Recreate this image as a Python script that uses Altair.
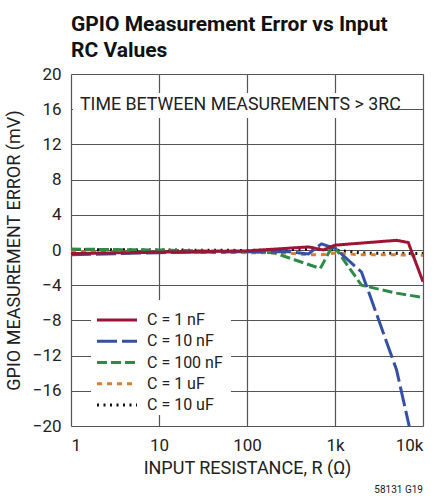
import altair as alt
import pandas as pd

FONT = "Roboto, Liberation Sans, sans-serif"

series_names = ["C = 1 nF", "C = 10 nF", "C = 100 nF", "C = 1 uF", "C = 10 uF"]
colors = ["#9b1536", "#3551a5", "#2f8a48", "#d4812f", "#111111"]
dashes = [[1, 0], [20, 5], [10, 4], [5, 5], [2, 4.5]]
widths = [3, 3, 3, 3, 2]

r_1nF = [1, 10, 100, 500, 740, 1000, 5000, 6800, 10000]
v_1nF = [-0.4, -0.25, -0.1, 0.35, 0.0, 0.55, 1.1, 0.85, -3.6]

r_10nF = [1, 10, 100, 300, 500, 700, 1000, 2000, 5000, 10000]
v_10nF = [-0.55, -0.3, -0.2, -0.2, -0.45, 0.7, 0.2, -2.5, -13.6, -27.0]

r_100nF = [1, 10, 100, 200, 680, 950, 2000, 5000, 10000]
v_100nF = [0.1, 0.0, -0.2, -0.3, -2.1, 0.6, -4.0, -4.9, -5.4]

r_1uF = [1, 10, 100, 300, 500, 700, 1000, 2000, 5000, 10000]
v_1uF = [-0.2, -0.25, -0.3, -0.35, -0.55, -0.55, -0.35, -0.55, -0.55, -0.6]

r_10uF = [1, 10, 100, 500, 700, 1000, 2000, 10000]
v_10uF = [0.05, 0.0, -0.05, 0.1, 0.1, 0.0, -0.35, -0.4]

x_ticks = [1, 10, 100, 1000, 10000]
y_ticks = [-20, -16, -12, -8, -4, 0, 4, 8, 12, 16, 20]

rows = []
series_data = list(zip(series_names,
                       [r_1nF, r_10nF, r_100nF, r_1uF, r_10uF],
                       [v_1nF, v_10nF, v_100nF, v_1uF, v_10uF]))
# draw the 1 nF series last so it sits on top, as in the reference
for name, rs, vs in reversed(series_data):
    for i, (r, v) in enumerate(zip(rs, vs)):
        rows.append({"series": name, "R": r, "V": v, "order": i})
df = pd.DataFrame(rows)
legend_df = pd.DataFrame({"series": series_names})

color_scale = alt.Scale(domain=series_names, range=colors)
dash_scale = alt.Scale(domain=series_names, range=dashes)
width_scale = alt.Scale(domain=series_names, range=widths)

xscale = alt.Scale(type="log", domain=[1, 10000], nice=False)
yscale = alt.Scale(domain=[-20, 20], nice=False, zero=False)

lines = alt.Chart(df).mark_line(clip=True, strokeCap="butt").encode(
    x=alt.X("R:Q", scale=xscale,
            axis=alt.Axis(values=x_ticks, title="INPUT RESISTANCE, R (Ω)",
                          labelExpr="datum.value >= 1000 ? (datum.value/1000) + 'k' : datum.value",
                          grid=True, gridColor="#555", gridWidth=1.2,
                          tickSize=0, labelPadding=11, labelFontSize=17,
                          labelFont=FONT, labelColor="#222",
                          titleFont=FONT, titleFontSize=18, titleFontWeight="normal",
                          titleColor="#222", titleX=176, titleY=42,
                          titleBaseline="middle", domain=False)),
    y=alt.Y("V:Q", scale=yscale,
            axis=alt.Axis(values=y_ticks, format="d", title="GPIO MEASUREMENT ERROR (mV)",
                          grid=True, gridColor="#555", gridWidth=1.2,
                          tickSize=0, labelPadding=10, labelFontSize=17,
                          labelFont=FONT, labelColor="#222",
                          titleFont=FONT, titleFontSize=18, titleFontWeight="normal",
                          titleColor="#222", titleX=-57, titleY=176,
                          titleBaseline="middle", domain=False)),
    color=alt.Color("series:N", scale=color_scale, legend=None),
    strokeDash=alt.StrokeDash("series:N", scale=dash_scale, legend=None),
    strokeWidth=alt.StrokeWidth("series:N", scale=width_scale, legend=None),
    order="order:Q",
)

# legend (drawn from the series list)
leg_y = alt.Y("series:N", scale=alt.Scale(type="point", domain=series_names,
                                          range=[246, 331], padding=0), axis=None)
leg_box = alt.Chart(legend_df).mark_rect(color="white").encode(
    x=alt.value(20), x2=alt.value(160), y=alt.value(226), y2=alt.value(341))
leg_sym = alt.Chart(legend_df).mark_rule(strokeCap="butt").encode(
    x=alt.value(26), x2=alt.value(66), y=leg_y,
    color=alt.Color("series:N", scale=color_scale, legend=None),
    strokeDash=alt.StrokeDash("series:N", scale=dash_scale, legend=None),
    strokeWidth=alt.StrokeWidth("series:N", scale=width_scale, legend=None),
)
leg_txt = alt.Chart(legend_df).mark_text(
    align="left", baseline="middle", font=FONT, fontSize=16, color="#222"
).encode(x=alt.value(76), y=leg_y, text="series:N")

note_df = pd.DataFrame({"text": ["TIME BETWEEN MEASUREMENTS > 3RC"]})
note_box = alt.Chart(note_df).mark_rect(color="white").encode(
    x=alt.value(2), x2=alt.value(317), y=alt.value(19), y2=alt.value(44))
note = alt.Chart(note_df).mark_text(
    align="left", baseline="middle", font=FONT, fontSize=17.8, color="#222"
).encode(x=alt.value(9), y=alt.value(31), text="text:N")

code_df = pd.DataFrame({"text": ["58131 G19"]})
code = alt.Chart(code_df).mark_text(
    align="right", baseline="middle", font=FONT, fontSize=10, color="#222"
).encode(x=alt.value(352), y=alt.value(416), text="text:N")

chart = alt.layer(note_box, note, lines, leg_box, leg_sym, leg_txt, code).resolve_scale(
    y="independent"
).properties(
    width=352, height=352,
    title=alt.Title(["GPIO Measurement Error vs Input", "RC Values"],
                    anchor="start", frame="group", font=FONT, fontSize=21,
                    fontWeight="bold", color="#111", lineHeight=26, offset=4),
    autosize=alt.AutoSizeParams(type="none"),
    padding={"left": 71, "top": 74, "right": 14, "bottom": 71},
).configure_view(stroke="#111", strokeWidth=2).configure(background="white")

chart.save("out.html", embed_options={"renderer": "svg", "actions": False})
